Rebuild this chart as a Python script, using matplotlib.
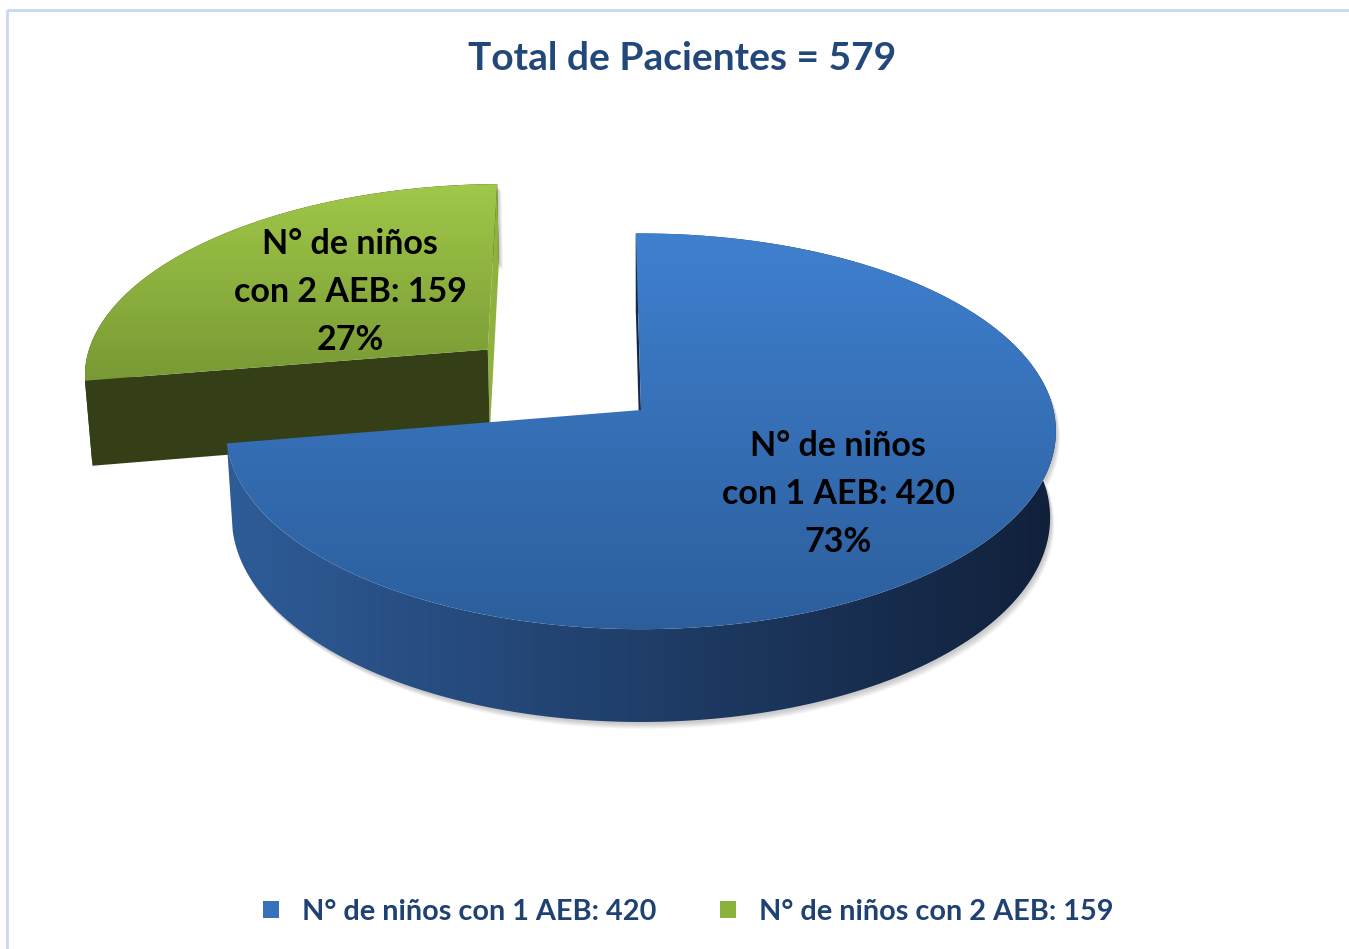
import numpy as np
import matplotlib.pyplot as plt
from matplotlib.patches import Polygon, Patch
from matplotlib.colors import to_rgb

# data
categories = ["N° de niños con 1 AEB: 420", "N° de niños con 2 AEB: 159"]
short_labels = ["N° de niños\ncon 1 AEB: 420", "N° de niños\ncon 2 AEB: 159"]
counts = [420, 159]
title = "Total de Pacientes = 579"

# look
top_cols = [("#3f80cf", "#2c5e9c"), ("#a0c849", "#789934")]
wall_cols = [("#2e5c98", "#11203a"), ("#353f18", "#303a15")]
start_face = ["#16294a", "#343e17"]
end_face = [None, "#8fb23f"]   # blue's end face looks away from the viewer
legend_cols = ["#3770bb", "#8cb23d"]
explode = [0.0, 0.5]
label_pos = [(838, 494), (350, 292)]

FONT = "Lato"
CX, CY = 641, 410
F = 3370.0
DIST = 8.17
TILT = np.radians(28.3)
H = 0.24
START = -0.8  # degrees, clockwise from 12 o'clock


def proj(X, Y, Z):
    yc = Y * np.sin(TILT) + Z * np.cos(TILT)
    zc = DIST + Y * np.cos(TILT) - Z * np.sin(TILT)
    return CX + F * X / zc, CY - F * yc / zc


def grad_fill(ax, xs, ys, c0, c1, horizontal=False, zorder=1):
    poly = Polygon(np.column_stack([xs, ys]), closed=True, fc="none", ec="none")
    ax.add_patch(poly)
    t = np.linspace(0, 1, 256)
    a, b = np.array(to_rgb(c0)), np.array(to_rgb(c1))
    cols = a + (b - a) * t[:, None]
    img = cols[None, :, :] if horizontal else cols[:, None, :]
    im = ax.imshow(img, extent=(min(xs), max(xs), max(ys), min(ys)), origin="upper",
                   aspect="auto", zorder=zorder, interpolation="bilinear")
    im.set_clip_path(poly)


fig = plt.figure(figsize=(13.49, 9.49), dpi=100)
ax = fig.add_axes([0, 0, 1, 1])
ax.axis("off")

total = sum(counts)
spans = [360.0 * c / total for c in counts]
starts = [START + sum(spans[:i]) for i in range(len(counts))]

# draw back (green) slice first, then the big one
order = [1, 0]
z = 2
for i in order:
    a0, a1 = np.radians(starts[i]), np.radians(starts[i] + spans[i])
    mid = (a0 + a1) / 2
    ox, oy = explode[i] * np.sin(mid), explode[i] * np.cos(mid)
    th = np.linspace(a0, a1, 200)
    X = ox + np.sin(th)
    Y = oy + np.cos(th)
    tx, ty = proj(X, Y, 0 * th)
    bx, by = proj(X, Y, 0 * th - H)
    cx0, cy0 = proj(ox, oy, 0.0)
    cx1, cy1 = proj(ox, oy, -H)

    # soft shadow
    for k in range(6):
        d = 2 + k
        ax.add_patch(Polygon(np.column_stack([np.r_[tx, bx[::-1]] + d * 0.6, np.r_[ty, by[::-1]] + d]),
                             closed=True, fc="#000000", ec="none", alpha=0.035, zorder=z))
    z += 1

    # outer wall
    grad_fill(ax, np.r_[tx, bx[::-1]], np.r_[ty, by[::-1]], *wall_cols[i], horizontal=True, zorder=z)
    z += 1

    # radial faces
    sx, sy = proj(ox + np.sin(a0), oy + np.cos(a0), 0.0)
    sbx, sby = proj(ox + np.sin(a0), oy + np.cos(a0), -H)
    ex, ey = proj(ox + np.sin(a1), oy + np.cos(a1), 0.0)
    ebx, eby = proj(ox + np.sin(a1), oy + np.cos(a1), -H)
    if end_face[i]:
        ax.add_patch(Polygon([(cx0, cy0), (ex, ey), (ebx, eby), (cx1, cy1)], closed=True,
                             fc=end_face[i], ec="none", zorder=z))
    z += 1
    ax.add_patch(Polygon([(cx0, cy0), (sx, sy), (sbx, sby), (cx1, cy1)], closed=True,
                         fc=start_face[i], ec="none", zorder=z))
    z += 1

    # top face
    grad_fill(ax, np.r_[cx0, tx], np.r_[cy0, ty], *top_cols[i], zorder=z)
    z += 1

for i in range(len(counts)):
    pct = f"{round(100 * counts[i] / total)}%"
    ax.text(*label_pos[i], short_labels[i] + "\n" + pct, ha="center", va="center",
            fontsize=24.5, fontweight="bold", family=FONT, color="black",
            linespacing=1.62, zorder=50)

ax.text(682, 58, title, ha="center", va="center", fontsize=28, fontweight="bold",
        family=FONT, color="#22477a", zorder=50)

handles = [Patch(facecolor=c, edgecolor="none") for c in legend_cols]
leg = ax.legend(handles, categories, loc="center", bbox_to_anchor=(688 / 1349, 1 - 912 / 949),
                ncol=2, frameon=False, handlelength=0.55, handleheight=0.55,
                handletextpad=0.8, columnspacing=2.2,
                prop={"family": FONT, "weight": "bold", "size": 20.8})
for t in leg.get_texts():
    t.set_color("#1f4272")

# chart frame
ax.plot([7, 1349], [10, 10], color="#c6d9f1", lw=2, zorder=60, solid_capstyle="butt")
ax.plot([7, 7], [10, 949], color="#c6d9f1", lw=2, zorder=60, solid_capstyle="butt")

ax.set_xlim(0, 1349)
ax.set_ylim(949, 0)
fig.savefig("out.png", dpi=100)
